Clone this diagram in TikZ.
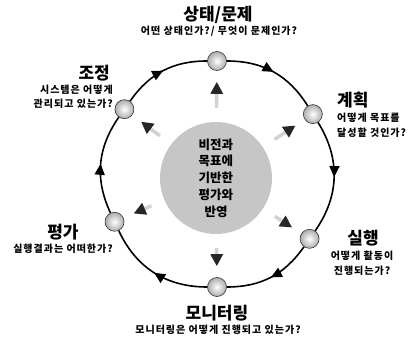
\documentclass[tikz,border=0pt]{standalone}
\usepackage{fontspec}
\setmainfont{Noto Sans CJK KR}
\newfontfamily\askfont[LetterSpace=10]{Noto Sans CJK KR}
\usetikzlibrary{arrows.meta, decorations.markings, positioning}

\begin{document}
\begin{tikzpicture}[x=1pt, y=1pt]
            %Styles
            \tikzset{
            ball/.style={circle, minimum size=19pt, inner sep=0pt, draw=black!80, line width=0.6pt, inner color=white, outer color=gray!65},
            ring/.style={line width=1.6pt, postaction={decorate}, decoration={markings, mark=at position 0.5 with {\arrow{Triangle[length=11pt,width=10pt]}}}},
            push/.style={line width=3.5pt, gray!35, -{Triangle[length=12pt,width=12pt,black!85]}, shorten <=14pt, shorten >=11pt},
            title/.style={font=\fontsize{17}{20}\selectfont\bfseries, inner sep=0pt},
            ask/.style={font=\askfont\fontsize{10}{14.5}\selectfont\bfseries, inner sep=0pt}
            }
            \useasboundingbox (-217,-173) rectangle (195,174);

            %Centre
            \node[circle, fill=gray!45, minimum size=112pt, align=center, font=\fontsize{12.5}{16.7}\selectfont\bfseries] (vision) at (-1,-4) {비전과\\목표에\\기반한\\평가와\\반영};

            %Stations on the ring
            \node[ball] (state) at (90:113) {};
            \node[ball] (plan) at (32:113) {};
            \node[ball] (run) at (-35:113) {};
            \node[ball] (monitor) at (-90:113) {};
            \node[ball] (eval) at (205:113) {};
            \node[ball] (adjust) at (145:113) {};

            %Ring
            \foreach \a/\b/\n in {state/plan/29, plan/run/33.5, run/monitor/27.5, monitor/eval/32.5, eval/adjust/30, adjust/state/27.5}
            \draw[ring] (\a) to[bend left=\n] (\b);

            %Arrows out of the centre
            \foreach \b in {state, plan, run, monitor, eval, adjust}
            \draw[push] (vision) -- (\b);

            %Labels
            \node[title] (statetitle) at (1,159) {상태/문제};
            \node[ask] (stateask) at (2,143) {어떤 상태인가?/ 무엇이 문제인가?};
            \node[title, anchor=east] (adjusttitle) at (-107,101) {조정};
            \node[ask, anchor=east, align=right] (adjustask) at (-104,77) {시스템은 어떻게\\관리되고 있는가?};
            \node[title, anchor=west] (plantitle) at (120,74) {계획};
            \node[ask, anchor=west, align=left] (planask) at (120,48.5) {어떻게 목표를\\달성할 것인가?};
            \node[title] (evaltitle) at (-154,-58) {평가};
            \node[ask] (evalask) at (-154,-75) {실행결과는 어떠한가?};
            \node[title] (runtitle) at (146,-64) {실행};
            \node[ask, align=center] (runask) at (145,-89) {어떻게 활동이\\진행되는가?};
            \node[title] (monitortitle) at (0,-139) {모니터링};
            \node[ask] (monitorask) at (1,-156) {모니터링은 어떻게 진행되고 있는가?};
\end{tikzpicture}
\end{document}
